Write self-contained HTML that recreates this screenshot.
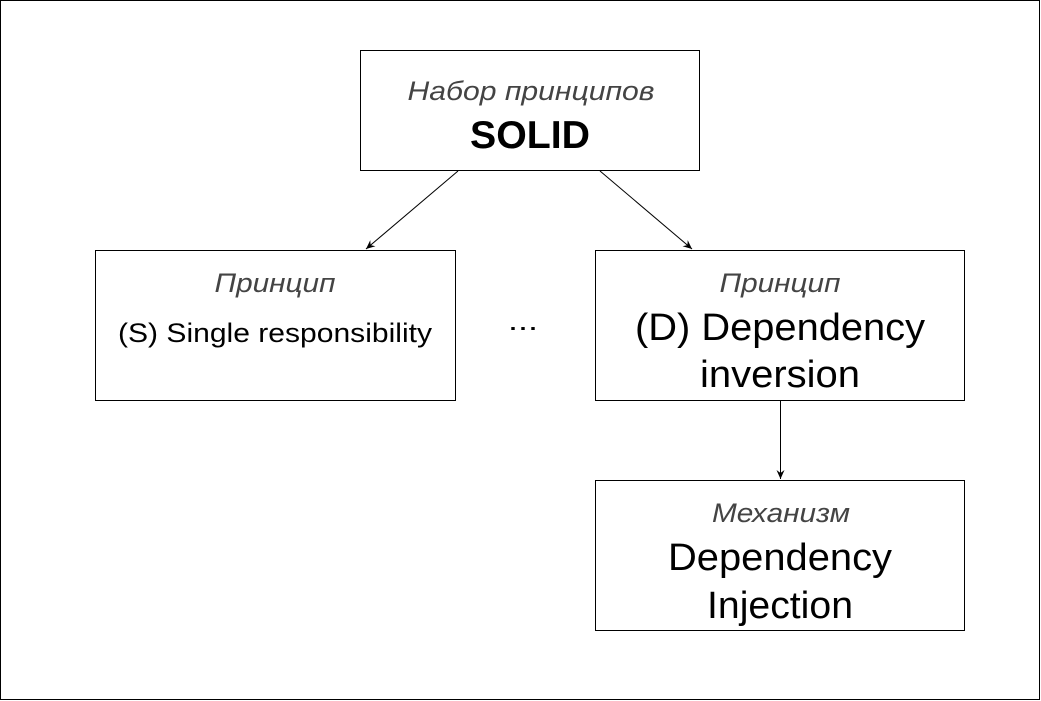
<!DOCTYPE html>
<html><head><meta charset="utf-8"><style>
html,body{margin:0;padding:0;background:#fff;}
svg{display:block;}
text{font-family:"Liberation Sans",Arial,sans-serif;text-anchor:middle;}
.it{font-style:italic;fill:#444;font-size:27px;}
</style></head><body>
<svg width="1041" height="701" viewBox="0 0 1041 701" xmlns="http://www.w3.org/2000/svg">
<defs><marker id="a" markerWidth="10" markerHeight="10" refX="9" refY="5" orient="auto" markerUnits="userSpaceOnUse"><path d="M0,1 L9,5 L0,9 L3,5 Z" fill="#000"/></marker></defs>
<rect x="0.5" y="0.5" width="1039" height="699" fill="#fff" stroke="#000"/>
<rect x="360.5" y="50.5" width="339" height="120" fill="#fff" stroke="#000"/>
<rect x="95.5" y="250.5" width="360" height="150" fill="#fff" stroke="#000"/>
<rect x="595.5" y="250.5" width="369" height="150" fill="#fff" stroke="#000"/>
<rect x="595.5" y="480.5" width="369" height="150" fill="#fff" stroke="#000"/>
<line x1="458" y1="171" x2="366" y2="249" stroke="#000" marker-end="url(#a)"/>
<line x1="600" y1="171" x2="692" y2="249" stroke="#000" marker-end="url(#a)"/>
<line x1="780.5" y1="401" x2="780.5" y2="479" stroke="#000" marker-end="url(#a)"/>
<text x="531" y="100" class="it" textLength="247" lengthAdjust="spacingAndGlyphs">Набор принципов</text>
<text x="530" y="148" font-size="39" font-weight="bold" textLength="120" lengthAdjust="spacingAndGlyphs">SOLID</text>
<text x="275" y="292" class="it" textLength="121" lengthAdjust="spacingAndGlyphs">Принцип</text>
<text x="275" y="342" font-size="27" textLength="314" lengthAdjust="spacingAndGlyphs">(S) Single responsibility</text>
<text x="523" y="330" font-size="28" textLength="30" lengthAdjust="spacingAndGlyphs">...</text>
<text x="780" y="292" class="it" textLength="121" lengthAdjust="spacingAndGlyphs">Принцип</text>
<text x="780" y="340" font-size="38" textLength="290" lengthAdjust="spacingAndGlyphs">(D) Dependency</text>
<text x="780" y="387" font-size="38" textLength="160" lengthAdjust="spacingAndGlyphs">inversion</text>
<text x="781" y="522" class="it" textLength="138" lengthAdjust="spacingAndGlyphs">Механизм</text>
<text x="780" y="570" font-size="38" textLength="224" lengthAdjust="spacingAndGlyphs">Dependency</text>
<text x="780" y="618" font-size="38" textLength="146" lengthAdjust="spacingAndGlyphs">Injection</text>
</svg>
</body></html>
